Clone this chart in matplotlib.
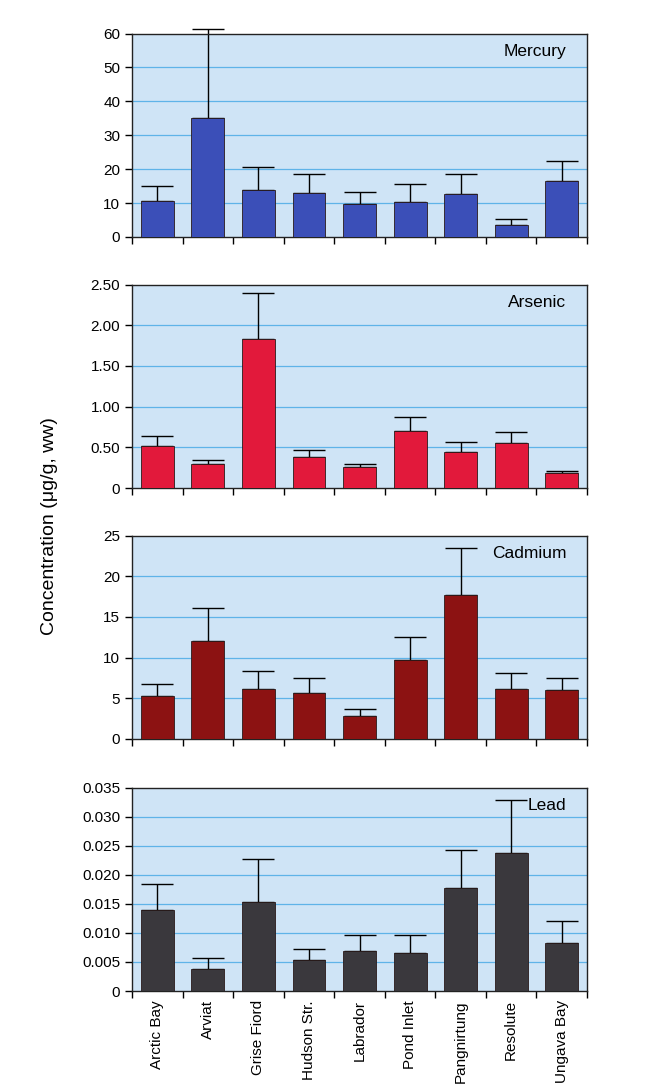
import matplotlib
matplotlib.use("Agg")
import matplotlib.pyplot as plt
import numpy as np
from matplotlib import font_manager

names = {f.name for f in font_manager.fontManager.ttflist}
FAM = ['Liberation Sans Narrow', 'Liberation Sans', 'DejaVu Sans'] if 'Liberation Sans Narrow' in names else ['Liberation Sans', 'DejaVu Sans']
plt.rcParams['font.family'] = FAM

sites = ["Arctic Bay", "Arviat", "Grise Fiord", "Hudson Str.", "Labrador",
         "Pond Inlet", "Pangnirtung", "Resolute", "Ungava Bay"]

mercury = [10.6, 35.1, 13.8, 13.0, 9.6, 10.4, 12.8, 3.5, 16.5]
mercury_err_top = [14.9, 61.3, 20.7, 18.5, 13.4, 15.5, 18.5, 5.4, 22.4]

arsenic = [0.52, 0.29, 1.83, 0.38, 0.26, 0.70, 0.44, 0.55, 0.18]
arsenic_err_top = [0.64, 0.35, 2.40, 0.47, 0.30, 0.87, 0.57, 0.69, 0.21]

cadmium = [5.3, 12.0, 6.15, 5.65, 2.85, 9.7, 17.65, 6.2, 6.0]
cadmium_err_top = [6.75, 16.1, 8.35, 7.5, 3.65, 12.5, 23.5, 8.1, 7.5]

lead = [0.0139, 0.0038, 0.0154, 0.0053, 0.0069, 0.0065, 0.0178, 0.0238, 0.0082]
lead_err_top = [0.0185, 0.0057, 0.0227, 0.0072, 0.0097, 0.0097, 0.0243, 0.0328, 0.0120]

panel_names = ["Mercury", "Arsenic", "Cadmium", "Lead"]
y_ticks = [
    [0, 10, 20, 30, 40, 50, 60],
    [0, 0.5, 1.0, 1.5, 2.0, 2.5],
    [0, 5, 10, 15, 20, 25],
    [0, 0.005, 0.010, 0.015, 0.020, 0.025, 0.030, 0.035],
]
y_ticklabels = [
    ["0", "10", "20", "30", "40", "50", "60"],
    ["0", "0.50", "1.00", "1.50", "2.00", "2.50"],
    ["0", "5", "10", "15", "20", "25"],
    ["0", "0.005", "0.010", "0.015", "0.020", "0.025", "0.030", "0.035"],
]
values = [mercury, arsenic, cadmium, lead]
err_tops = [mercury_err_top, arsenic_err_top, cadmium_err_top, lead_err_top]
colors = ["#3b4fb8", "#e2193b", "#8c1212", "#3a383d"]

fig = plt.figure(figsize=(6.49, 10.85), dpi=100)
left, width, height = 0.2034, 0.7011, 0.1875
bottoms = [0.7816, 0.5502, 0.3189, 0.0866]

x = np.arange(len(sites))
for i in range(4):
    ax = fig.add_axes([left, bottoms[i], width, height])
    ax.set_facecolor("#cfe4f6")
    v = np.array(values[i])
    e = np.array(err_tops[i]) - v
    ax.bar(x, v, width=0.65, color=colors[i], edgecolor="#2a1a1a", linewidth=0.6, zorder=3)
    eb = ax.errorbar(x, v, yerr=[np.zeros_like(e), e], fmt="none", ecolor="black",
                     elinewidth=1.0, capsize=11.5, capthick=1.0, zorder=2)
    for art in eb.lines[1]:
        art.set_clip_on(False)
    for art in eb.lines[2]:
        art.set_clip_on(False)
    ax.set_xlim(-0.5, len(sites) - 0.5)
    ax.set_ylim(y_ticks[i][0], y_ticks[i][-1])
    ax.set_yticks(y_ticks[i])
    ax.set_yticklabels(y_ticklabels[i], fontsize=11)
    for t in y_ticks[i][1:-1]:
        ax.axhline(t, color="#5fb3e8", linewidth=0.9, zorder=1)
    ax.set_xticks(np.arange(-0.5, len(sites), 1.0))
    ax.set_xticklabels([])
    ax.tick_params(axis="both", direction="out", length=5, width=1.0, color="black")
    for s in ax.spines.values():
        s.set_linewidth(1.0)
        s.set_color("#222222")
    ax.text(0.955, 0.91, panel_names[i], transform=ax.transAxes, ha="right",
            va="center", fontsize=12.5)
    if i == 3:
        for xi, name in zip(x, sites):
            ax.text(xi, -0.045, name, transform=ax.get_xaxis_transform(),
                    rotation=90, ha="center", va="top", fontsize=11)

fig.text(0.077, 0.515, "Concentration (μg/g, ww)", rotation=90, ha="center",
         va="center", fontsize=14)

fig.savefig("out.png", dpi=100, facecolor="white")
